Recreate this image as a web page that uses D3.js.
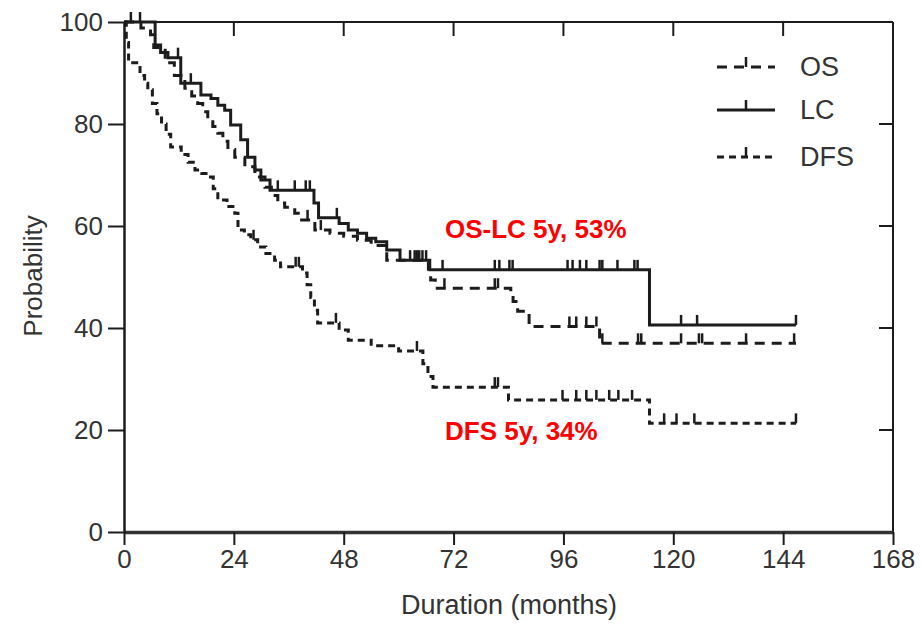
<!DOCTYPE html>
<html>
<head>
<meta charset="utf-8">
<script src="https://cdn.jsdelivr.net/npm/d3@7"></script>
<style>
  body { margin: 0; background: #fff; }
  svg { display: block; font-family: "Liberation Sans", Arial, sans-serif; }
</style>
</head>
<body>
<div id="chart"></div>
<script>
// axis ticks
const xTicks = [0, 24, 48, 72, 96, 120, 144, 168];
const yTicks = [0, 20, 40, 60, 80, 100];
const endTime = 146.8;

// LC (solid) - event times (months) and survival (%) after each step
const lcTimes = [0, 6.8, 8, 9.6, 12.4, 16.8, 19, 20.5, 22, 23.3, 25.5, 27, 28.6, 29.9, 31.9, 41.5, 42.5, 47, 49, 51, 53, 55, 57.4, 60.3, 66.8, 114.8];
const lcSurv = [100, 95.5, 94, 93, 88, 85.7, 85, 83.7, 82.7, 79.8, 76.9, 73.5, 71, 69, 67, 64.5, 61.6, 60.5, 59.2, 58.6, 57.6, 56.9, 55.3, 53.3, 51.4, 40.6];
const lcCensor = [1.5, 3.5, 11.8, 14.6, 33.6, 37.3, 39.7, 40.6, 46.5, 63.5, 64.5, 65.2, 66, 69.6, 81, 82, 84.2, 84.9, 96.9, 98, 99.6, 101, 103.9, 104.5, 107.8, 111.5, 112.2, 121.7, 125.2, 146.8];

// OS (long dashes)
const osTimes = [0, 3.7, 5.8, 6.5, 9, 11, 13.3, 14.8, 16.1, 17.2, 18.3, 19.4, 20.5, 21.6, 22.7, 24.2, 26.4, 28.6, 30.8, 32.2, 33.6, 35.1, 37.3, 38.4, 41.7, 45, 48, 51, 54, 57.4, 66.5, 67, 68, 84.5, 85, 86, 88.5, 103.9];
const osSurv = [100, 98.8, 97.5, 95, 92, 89.5, 87, 85.5, 84, 82.4, 80.8, 79.5, 78.2, 76.6, 75, 73.5, 71.6, 69.6, 67.6, 66, 64.5, 63.7, 62.5, 61.2, 59.2, 58.6, 58, 57.2, 56.2, 53.3, 51.5, 49.4, 47.8, 46.5, 45.2, 43.3, 40.3, 37];
const osCensor = [40.1, 43, 62.5, 64, 70, 81, 81.7, 97.3, 98.8, 101, 103.2, 104.5, 112.3, 113, 121.7, 125.6, 126.3, 135.9, 146.4];

// DFS (short dashes)
const dfsTimes = [0, 0.5, 1, 3.5, 4.5, 5.2, 6.2, 7.2, 8.2, 9.2, 10.2, 12.5, 14, 15.5, 17, 18.3, 19.5, 20.5, 22.5, 24.2, 24.9, 26.3, 27.7, 29.2, 31, 32.9, 34.2, 39, 40, 40.8, 41.6, 42.3, 47, 49, 54, 60, 65.3, 66.4, 67.5, 84, 114.8];
const dfsSurv = [100, 96, 92, 89.5, 88, 86.7, 84, 82, 80, 78, 75.5, 74, 72.5, 71, 70.3, 69.6, 67.3, 65.1, 63.8, 62.5, 59.2, 58.3, 57.3, 55.9, 54.6, 53.3, 52, 50.8, 48.5, 46, 43.5, 41, 39.6, 37.6, 36.5, 35.5, 33, 30.5, 28.4, 25.9, 21.3];
const dfsCensor = [28.3, 37.5, 38.2, 46.3, 64, 81, 81.7, 95.8, 98.8, 101, 103.2, 106, 108, 111, 118, 120.7, 124.6, 146.8];

const series = [
  { name: "OS", times: osTimes, surv: osSurv, censor: osCensor, dash: "10,7" },
  { name: "LC", times: lcTimes, surv: lcSurv, censor: lcCensor, dash: null },
  { name: "DFS", times: dfsTimes, surv: dfsSurv, censor: dfsCensor, dash: "7,5" }
];

const width = 921, height = 625;
const margin = { top: 22, right: 28, bottom: 93, left: 124 };
const innerW = width - margin.left - margin.right;
const innerH = height - margin.top - margin.bottom;
const ink = "#1c1c1c";
const textColor = "#333";

const svg = d3.select("#chart").append("svg")
  .attr("width", width)
  .attr("height", height);

const g = svg.append("g")
  .attr("transform", `translate(${margin.left},${margin.top})`);

const x = d3.scaleLinear().domain([0, 168]).range([0, innerW]);
const y = d3.scaleLinear().domain([0, 100]).range([innerH, 0]);

// frame: top and right with inward ticks
g.append("line")
  .attr("x1", 0).attr("x2", innerW).attr("y1", 0).attr("y2", 0)
  .attr("stroke", ink).attr("stroke-width", 2);
g.append("line")
  .attr("x1", innerW).attr("x2", innerW).attr("y1", 0).attr("y2", innerH)
  .attr("stroke", ink).attr("stroke-width", 2);
g.selectAll(".top-tick").data(xTicks.slice(1, -1)).enter().append("line")
  .attr("class", "top-tick")
  .attr("x1", d => x(d)).attr("x2", d => x(d))
  .attr("y1", 0).attr("y2", 14)
  .attr("stroke", ink).attr("stroke-width", 2);
g.selectAll(".right-tick").data(yTicks.slice(1, -1)).enter().append("line")
  .attr("class", "right-tick")
  .attr("x1", innerW).attr("x2", innerW - 14)
  .attr("y1", d => y(d)).attr("y2", d => y(d))
  .attr("stroke", ink).attr("stroke-width", 2);

// axes
const xAxis = g.append("g")
  .attr("transform", `translate(0,${innerH})`)
  .call(d3.axisBottom(x).tickValues(xTicks).tickSize(13).tickSizeOuter(0).tickPadding(5));
const yAxis = g.append("g")
  .call(d3.axisLeft(y).tickValues(yTicks).tickSize(16).tickSizeOuter(0).tickPadding(5));

xAxis.select(".domain").attr("stroke", "#333").attr("stroke-width", 3.5);
yAxis.select(".domain").attr("stroke", ink).attr("stroke-width", 2.5);
[xAxis, yAxis].forEach(a => {
  a.selectAll(".tick line").attr("stroke", ink).attr("stroke-width", 2);
  a.selectAll(".tick text")
    .attr("fill", textColor)
    .style("font-size", "26px");
});

// curves
const line = d3.line()
  .x(d => x(d[0]))
  .y(d => y(d[1]))
  .curve(d3.curveStepAfter);

function survAt(s, t) {
  var i = d3.bisectRight(s.times, t) - 1;
  return s.surv[Math.max(0, i)];
}

series.forEach(function(s) {
  var pts = s.times.map((t, i) => [t, s.surv[i]]);
  pts.push([endTime, s.surv[s.surv.length - 1]]);
  g.append("path")
    .datum(pts)
    .attr("d", line)
    .attr("fill", "none")
    .attr("stroke", ink)
    .attr("stroke-width", 3)
    .attr("stroke-dasharray", s.dash);
  g.selectAll(null).data(s.censor).enter().append("line")
    .attr("x1", d => x(d)).attr("x2", d => x(d))
    .attr("y1", d => y(survAt(s, d)))
    .attr("y2", d => y(survAt(s, d)) - 10)
    .attr("stroke", ink)
    .attr("stroke-width", 2.5);
});

// legend
const legendY = [67, 110, 157];
const legend = svg.append("g");
series.forEach(function(s, i) {
  var ly = legendY[i];
  legend.append("line")
    .attr("x1", 717).attr("x2", 775).attr("y1", ly).attr("y2", ly)
    .attr("stroke", ink).attr("stroke-width", 3)
    .attr("stroke-dasharray", s.dash);
  legend.append("line")
    .attr("x1", 746).attr("x2", 746).attr("y1", ly).attr("y2", ly - 10)
    .attr("stroke", ink).attr("stroke-width", 2.5);
  legend.append("text")
    .attr("x", 800).attr("y", ly + 9)
    .attr("fill", textColor)
    .style("font-size", "27px")
    .text(s.name);
});

// axis titles
svg.append("text")
  .attr("x", margin.left + innerW * 0.5 - 124 + 124)
  .attr("x", 509)
  .attr("y", 614)
  .attr("text-anchor", "middle")
  .attr("fill", textColor)
  .style("font-size", "27px")
  .text("Duration (months)");
svg.append("text")
  .attr("transform", "translate(42,276) rotate(-90)")
  .attr("text-anchor", "middle")
  .attr("fill", textColor)
  .style("font-size", "26px")
  .text("Probability");

// annotations
svg.append("text")
  .attr("x", 445).attr("y", 238)
  .attr("fill", "#ff0000")
  .style("font-size", "26px").style("font-weight", "bold")
  .text("OS-LC 5y, 53%");
svg.append("text")
  .attr("x", 445).attr("y", 440)
  .attr("fill", "#ff0000")
  .style("font-size", "26px").style("font-weight", "bold")
  .text("DFS 5y, 34%");
</script>
</body>
</html>
